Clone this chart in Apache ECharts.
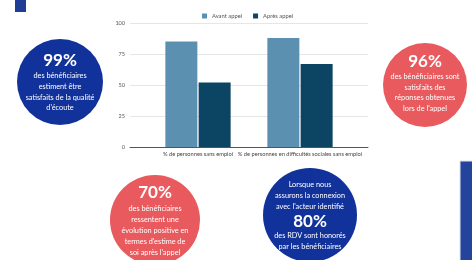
<!DOCTYPE html>
<html>
<head>
<meta charset="utf-8">
<script src="https://cdn.jsdelivr.net/npm/echarts@6/dist/echarts.min.js"></script>
<style>
  html, body { margin: 0; padding: 0; background: #fff; }
  #main { width: 472px; height: 260px; }
</style>
</head>
<body>
<div id="main"></div>
<script>
// données du graphique
var categories = ['% de personnes sans emploi', '% de personnes en difficultés sociales sans emploi'];
var avantAppel = [85, 88];
var apresAppel = [52, 67];
var seriesNames = ['Avant appel', 'Après appel'];
var yTicks = [0, 25, 50, 75, 100];

var BLUE = '#12329b';
var RED = '#e85a5e';
var FONT = 'Lato, "Open Sans", sans-serif';

// bulle avec texte centré
function bubble(cx, cy, r, color, lines) {
  var els = [{
    type: 'circle',
    shape: { cx: cx, cy: cy, r: r },
    style: { fill: color },
    z: 10
  }];
  lines.forEach(function (l) {
    els.push({
      type: 'text',
      x: cx,
      y: l.y,
      z: 11,
      style: {
        text: l.t,
        fill: '#fff',
        align: 'center',
        verticalAlign: 'middle',
        font: (l.big ? 'bold 17px ' : '7.3px ') + FONT
      }
    });
  });
  return els;
}

var graphics = [].concat(
  [{ type: 'rect', shape: { x: 15, y: 0, width: 11, height: 12 }, style: { fill: '#1f3d96' } },
   { type: 'rect', shape: { x: 460, y: 161, width: 14, height: 100 }, style: { fill: '#23449a', stroke: '#dfe3ee', lineWidth: 1 } }],
  bubble(60, 82, 43, BLUE, [
    { t: '99%', y: 61, big: true },
    { t: 'des bénéficiaires', y: 76 },
    { t: 'estiment être', y: 87 },
    { t: 'satisfaits de la qualité', y: 98 },
    { t: "d'écoute", y: 108 }
  ]),
  bubble(425, 85, 42, RED, [
    { t: '96%', y: 62, big: true },
    { t: 'des bénéficiaires sont', y: 77 },
    { t: 'satisfaits des', y: 88 },
    { t: 'réponses obtenues', y: 98 },
    { t: "lors de l'appel", y: 109 }
  ]),
  bubble(155, 220, 45, RED, [
    { t: '70%', y: 193, big: true },
    { t: 'des bénéficiaires', y: 209 },
    { t: 'ressentent une', y: 220 },
    { t: 'évolution positive en', y: 231 },
    { t: "termes d'estime de", y: 242 },
    { t: "soi après l'appel", y: 253 }
  ]),
  bubble(310, 215, 47, BLUE, [
    { t: 'Lorsque nous', y: 185 },
    { t: 'assurons la connexion', y: 196 },
    { t: "avec l'acteur identifié", y: 207 },
    { t: '80%', y: 222, big: true },
    { t: 'des RDV sont honorés', y: 236 },
    { t: 'par les bénéficiaires', y: 247 }
  ])
);

var chart = echarts.init(document.getElementById('main'), null, { renderer: 'canvas' });
chart.setOption({
  animation: false,
  textStyle: { fontFamily: FONT },
  legend: {
    data: seriesNames,
    top: 8,
    left: 197,
    itemWidth: 5,
    itemHeight: 5,
    itemGap: 11,
    icon: 'rect',
    textStyle: { fontSize: 5.8, color: '#555' }
  },
  grid: [
    { left: 130, right: 104, top: 23, bottom: 113 },
    { left: 147, right: 121, top: 23, bottom: 113 }
  ],
  xAxis: [
    {
      gridIndex: 0, type: 'category', data: [''],
      axisLine: { lineStyle: { color: '#555', width: 1 } },
      axisTick: { show: false }, axisLabel: { show: false }
    },
    {
      gridIndex: 1, type: 'category', data: categories,
      axisLine: { show: false }, axisTick: { show: false },
      axisLabel: { interval: 0, fontSize: 5.7, color: '#444', margin: 4 }
    }
  ],
  yAxis: [
    {
      gridIndex: 0, type: 'value', min: yTicks[0], max: yTicks[yTicks.length - 1], interval: 25,
      axisLine: { show: false }, axisTick: { show: false },
      axisLabel: { fontSize: 5.5, color: '#555', margin: 5 },
      splitLine: { lineStyle: { color: '#e6e6e6', width: 1 } }
    },
    {
      gridIndex: 1, type: 'value', min: 0, max: 100, show: false
    }
  ],
  series: [
    {
      name: seriesNames[0], type: 'bar', xAxisIndex: 1, yAxisIndex: 1,
      data: avantAppel, barWidth: 32, barGap: '4%',
      itemStyle: { color: '#5b90b0' }
    },
    {
      name: seriesNames[1], type: 'bar', xAxisIndex: 1, yAxisIndex: 1,
      data: apresAppel, barWidth: 32,
      itemStyle: { color: '#0c4463' }
    }
  ],
  graphic: graphics
});
</script>
</body>
</html>
